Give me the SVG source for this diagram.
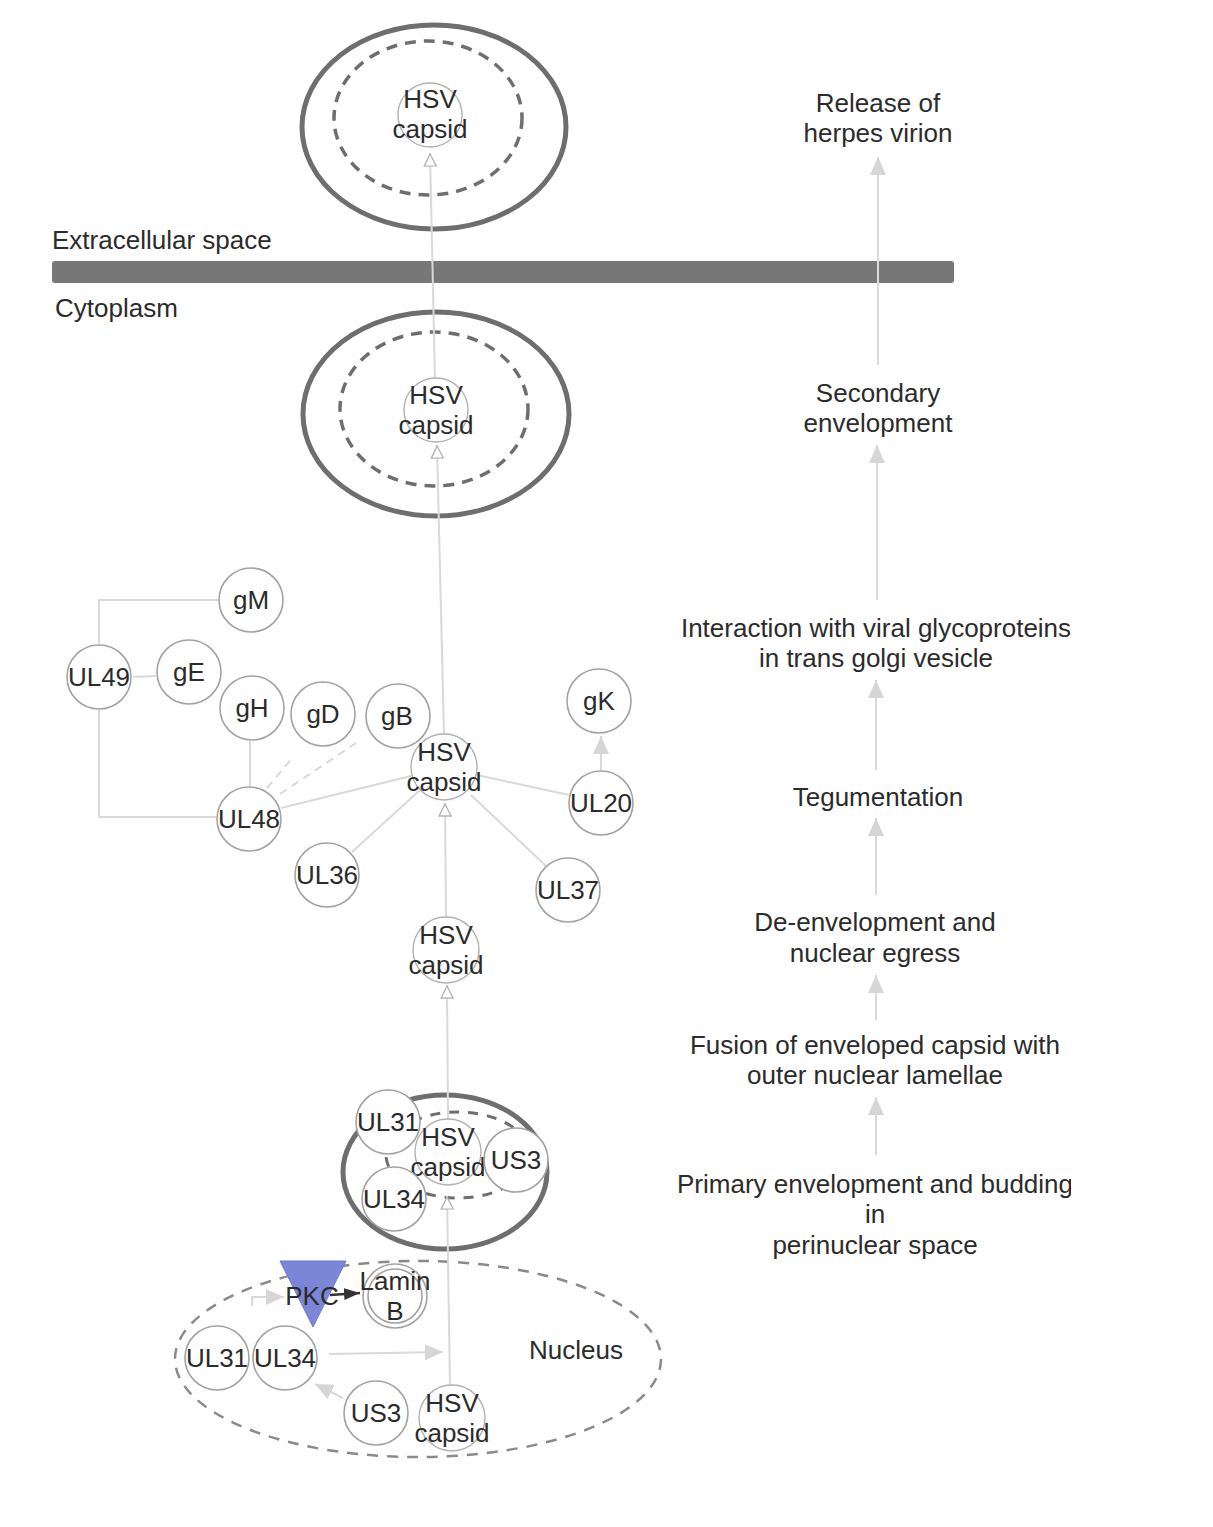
<svg xmlns="http://www.w3.org/2000/svg" width="1213" height="1527" viewBox="0 0 1213 1527">
<style>
text{font-family:"Liberation Sans",Arial,sans-serif;font-size:26px;fill:#2b2b2b;text-anchor:middle}
.lbl{text-anchor:start}
.node{fill:#fff;stroke:#a2a2a2;stroke-width:1.6}
.cap{fill:#fff;stroke:#b0b0b0;stroke-width:1.4}
.outer{fill:none;stroke:#6e6e6e;stroke-width:5}
.inner{fill:none;stroke:#6e6e6e;stroke-width:3.5;stroke-dasharray:11 8}
.edge{fill:none;stroke:#d9d9d9;stroke-width:2}
.dash{stroke-dasharray:8 6}
.flow{fill:none;stroke:#dadada;stroke-width:2}
</style>
<defs>
<marker id="hollow" viewBox="0 0 14 14" refX="14" refY="7" markerWidth="14" markerHeight="14" markerUnits="userSpaceOnUse" orient="auto">
<path d="M1,1 L13,7 L1,13 Z" fill="#fff" stroke="#b5b5b5" stroke-width="1.4"/>
</marker>
<marker id="fill" viewBox="0 0 18 16" refX="18" refY="8" markerWidth="18" markerHeight="16" markerUnits="userSpaceOnUse" orient="auto">
<path d="M0,0 L18,8 L0,16 Z" fill="#d6d6d6"/>
</marker>
<marker id="dark" viewBox="0 0 16 12" refX="16" refY="6" markerWidth="16" markerHeight="12" markerUnits="userSpaceOnUse" orient="auto">
<path d="M0,0 L16,6 L0,12 Z" fill="#333"/>
</marker>
<clipPath id="clipR"><rect x="0" y="0" width="1071" height="1527"/></clipPath>
</defs>
<rect width="1213" height="1527" fill="#fff"/>

<g id="compartments">
<rect x="52" y="261" width="902" height="22" rx="3" fill="#777"/>
<text class="lbl" x="52" y="249">Extracellular space</text>
<text class="lbl" x="55" y="317">Cytoplasm</text>
<ellipse class="outer" cx="434" cy="127" rx="132" ry="102"/>
<ellipse class="inner" cx="428" cy="118" rx="94" ry="77"/>
<ellipse class="outer" cx="436" cy="414" rx="133" ry="102"/>
<ellipse class="inner" cx="434" cy="409" rx="94" ry="77"/>
<ellipse class="outer" cx="445" cy="1172" rx="102" ry="77"/>
<ellipse fill="none" stroke="#6e6e6e" stroke-width="3" stroke-dasharray="10 9" cx="458" cy="1155" rx="72" ry="43"/>
<ellipse fill="none" stroke="#8a8a8a" stroke-width="2.5" stroke-dasharray="11 9" cx="418" cy="1359" rx="243" ry="98"/>
<text x="576" y="1359">Nucleus</text>
</g>

<g id="connectors">
<line class="edge" x1="435" y1="380" x2="430" y2="153" marker-end="url(#hollow)"/>
<line class="edge" x1="444" y1="734" x2="437" y2="445" marker-end="url(#hollow)"/>
<line class="edge" x1="446" y1="918" x2="445" y2="803" marker-end="url(#hollow)"/>
<line class="edge" x1="448" y1="1120" x2="447" y2="985" marker-end="url(#hollow)"/>
<line class="edge" x1="450" y1="1386" x2="447" y2="1196" marker-end="url(#hollow)"/>
<path class="edge" d="M99,644 V600 H218"/>
<path class="edge" d="M99,710 V817 H216"/>
<line class="edge" x1="133" y1="677" x2="156" y2="676"/>
<line class="edge" x1="250" y1="741" x2="250" y2="786"/>
<line class="edge dash" x1="267" y1="788" x2="294" y2="756"/>
<line class="edge dash" x1="280" y1="794" x2="356" y2="743"/>
<line class="edge" x1="281" y1="808" x2="411" y2="776"/>
<line class="edge" x1="352" y1="852" x2="420" y2="790"/>
<line class="edge" x1="569" y1="795" x2="477" y2="775"/>
<line class="edge" x1="546" y1="866" x2="471" y2="795"/>
<line class="edge" x1="601" y1="770" x2="601" y2="736" marker-end="url(#fill)"/>
<path class="edge" d="M252,1306 V1297 H284" marker-end="url(#fill)"/>
<line fill="none" stroke="#333" stroke-width="2.5" x1="330" y1="1295" x2="360" y2="1293" marker-end="url(#dark)"/>
<line class="edge" x1="329" y1="1354" x2="443" y2="1352" marker-end="url(#fill)"/>
<line class="edge" x1="343" y1="1398" x2="315" y2="1384" marker-end="url(#fill)"/>
<line class="flow" x1="878" y1="365" x2="878" y2="157" marker-end="url(#fill)"/>
<line class="flow" x1="877" y1="600" x2="877" y2="445" marker-end="url(#fill)"/>
<line class="flow" x1="876" y1="770" x2="876" y2="680" marker-end="url(#fill)"/>
<line class="flow" x1="876" y1="895" x2="876" y2="818" marker-end="url(#fill)"/>
<line class="flow" x1="876" y1="1020" x2="876" y2="975" marker-end="url(#fill)"/>
<line class="flow" x1="876" y1="1155" x2="876" y2="1097" marker-end="url(#fill)"/>
</g>

<g id="n-capsid-top"><circle class="cap" cx="430" cy="115" r="32"/><text x="430" y="108">HSV</text><text x="430" y="138">capsid</text></g>
<g id="n-capsid-mid"><circle class="cap" cx="436" cy="410" r="32"/><text x="436" y="404">HSV</text><text x="436" y="434">capsid</text></g>

<g id="n-gM"><circle class="node" cx="251" cy="600" r="32"/><text x="251" y="609">gM</text></g>
<g id="n-UL49"><circle class="node" cx="99" cy="677" r="32"/><text x="99" y="686">UL49</text></g>
<g id="n-gE"><circle class="node" cx="189" cy="672" r="32"/><text x="189" y="681">gE</text></g>
<g id="n-gH"><circle class="node" cx="252" cy="708" r="32"/><text x="252" y="717">gH</text></g>
<g id="n-gD"><circle class="node" cx="323" cy="714" r="32"/><text x="323" y="723">gD</text></g>
<g id="n-gB"><circle class="node" cx="398" cy="716" r="32"/><text x="397" y="725">gB</text></g>
<g id="n-capsid-cluster"><circle class="cap" cx="444" cy="767" r="33"/><text x="444" y="761">HSV</text><text x="444" y="791">capsid</text></g>
<g id="n-gK"><circle class="node" cx="599" cy="701" r="32"/><text x="599" y="710">gK</text></g>
<g id="n-UL20"><circle class="node" cx="601" cy="803" r="32"/><text x="601" y="812">UL20</text></g>
<g id="n-UL48"><circle class="node" cx="249" cy="819" r="32"/><text x="249" y="828">UL48</text></g>
<g id="n-UL36"><circle class="node" cx="327" cy="875" r="32"/><text x="327" y="884">UL36</text></g>
<g id="n-UL37"><circle class="node" cx="568" cy="890" r="32"/><text x="568" y="899">UL37</text></g>
<g id="n-capsid-low"><circle class="cap" cx="446" cy="950" r="33"/><text x="446" y="944">HSV</text><text x="446" y="974">capsid</text></g>

<g id="n-capsid-peri"><circle class="cap" cx="448" cy="1152" r="33"/><text x="448" y="1146">HSV</text><text x="448" y="1176">capsid</text></g>
<g id="n-UL31-peri"><circle class="node" cx="388" cy="1122" r="32"/><text x="388" y="1131">UL31</text></g>
<g id="n-UL34-peri"><circle class="node" cx="394" cy="1199" r="32"/><text x="394" y="1208">UL34</text></g>
<g id="n-US3-peri"><circle class="node" cx="516" cy="1160" r="32"/><text x="516" y="1169">US3</text></g>

<g id="n-PKC"><polygon points="280,1261 346,1261 313,1327" fill="#7b86d6" stroke="#6c78cc" stroke-width="1"/><text x="312" y="1305">PKC</text></g>
<g id="n-LaminB"><circle class="node" cx="395" cy="1296" r="32"/><circle class="node" cx="395" cy="1296" r="27"/><text x="395" y="1290">Lamin</text><text x="395" y="1320">B</text></g>
<g id="n-UL31-nuc"><circle class="node" cx="217" cy="1358" r="32"/><text x="217" y="1367">UL31</text></g>
<g id="n-UL34-nuc"><circle class="node" cx="285" cy="1358" r="32"/><text x="285" y="1367">UL34</text></g>
<g id="n-US3-nuc"><circle class="node" cx="376" cy="1413" r="32"/><text x="376" y="1422">US3</text></g>
<g id="n-capsid-nuc"><circle class="cap" cx="452" cy="1418" r="33"/><text x="452" y="1412">HSV</text><text x="452" y="1442">capsid</text></g>

<g id="steps" clip-path="url(#clipR)">
<g id="s-release"><text x="878" y="112">Release of</text><text x="878" y="142">herpes virion</text></g>
<g id="s-secondary"><text x="878" y="402">Secondary</text><text x="878" y="432">envelopment</text></g>
<g id="s-interaction"><text x="876" y="637">Interaction with viral glycoproteins</text><text x="876" y="667">in trans golgi vesicle</text></g>
<g id="s-tegumentation"><text x="878" y="806">Tegumentation</text></g>
<g id="s-deenvelopment"><text x="875" y="931">De-envelopment and</text><text x="875" y="962">nuclear egress</text></g>
<g id="s-fusion"><text x="875" y="1054">Fusion of enveloped capsid with</text><text x="875" y="1084">outer nuclear lamellae</text></g>
<g id="s-primary"><text x="875" y="1193">Primary envelopment and budding</text><text x="875" y="1223">in</text><text x="875" y="1254">perinuclear space</text></g>
</g>
</svg>
